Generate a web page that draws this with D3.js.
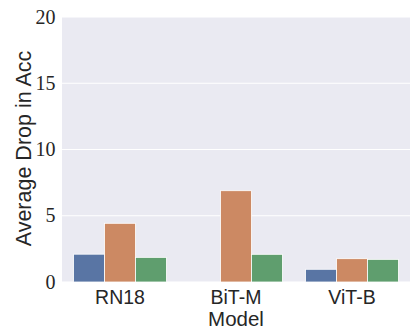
<!DOCTYPE html>
<html lang="en">
<head>
<meta charset="utf-8">
<script src="https://d3js.org/d3.v7.min.js"></script>
<style>
  html, body { margin: 0; padding: 0; background: #fff; }
  .ytick { font-family: "Liberation Serif", serif; font-size: 20px; fill: #262626; }
  .xtick { font-family: "Liberation Sans", sans-serif; font-size: 19.5px; fill: #262626; }
  .label { font-family: "Liberation Sans", sans-serif; font-size: 20.5px; fill: #262626; }
</style>
</head>
<body>
<script>
// data
var models = ["RN18", "BiT-M", "ViT-B"];
var series = ["s1", "s2", "s3"];
var s1 = [2.1, 0, 0.96];
var s2 = [4.43, 6.89, 1.76];
var s3 = [1.86, 2.09, 1.71];
var yTicks = [0, 5, 10, 15, 20];
var colors = ["#5975a4", "#cc8963", "#5f9e6e"];

var w = 415, h = 332;
var m = {left: 62, right: 5, top: 17, bottom: 50};

var svg = d3.select("body").append("svg")
    .attr("width", w).attr("height", h);

var x = d3.scaleBand().domain(models).range([m.left, w - m.right]).paddingInner(0.2).paddingOuter(0.1);
var xs = d3.scaleBand().domain(series).range([0, x.bandwidth()]);
var y = d3.scaleLinear().domain([0, 20]).range([h - m.bottom, m.top]);

svg.append("rect")
    .attr("x", m.left).attr("y", m.top)
    .attr("width", w - m.right - m.left).attr("height", h - m.bottom - m.top)
    .attr("fill", "#eaeaf2");

svg.selectAll("line.grid").data(yTicks).enter().append("line")
    .attr("x1", m.left).attr("x2", w - m.right)
    .attr("y1", d => y(d)).attr("y2", d => y(d))
    .attr("stroke", "#fff").attr("stroke-width", 1.2);

var vals = [s1, s2, s3];
models.forEach(function(mod, i) {
  series.forEach(function(s, j) {
    var v = vals[j][i];
    svg.append("rect")
      .attr("x", x(mod) + xs(s))
      .attr("y", y(v))
      .attr("width", xs.bandwidth())
      .attr("height", y(0) - y(v))
      .attr("fill", colors[j])
      .attr("stroke", "#fff").attr("stroke-width", v > 0 ? 0.8 : 0);
  });
});

svg.selectAll("text.ytick").data(yTicks).enter().append("text")
    .attr("class", "ytick")
    .attr("x", 55.5).attr("y", d => y(d))
    .attr("dy", "0.33em")
    .attr("text-anchor", "end").text(d => d);

svg.selectAll("text.xtick").data(models).enter().append("text")
    .attr("class", "xtick")
    .attr("x", d => x(d) + x.bandwidth() / 2).attr("y", 303.5)
    .attr("text-anchor", "middle").text(d => d);

svg.append("text").attr("class", "label")
    .attr("x", (m.left + w - m.right) / 2).attr("y", 326)
    .attr("text-anchor", "middle").text("Model");

svg.append("text").attr("class", "label")
    .style("font-size", "21.5px")
    .attr("transform", "translate(30.5," + ((m.top + h - m.bottom) / 2 - 1) + ") rotate(-90)")
    .attr("text-anchor", "middle").text("Average Drop in Acc");
</script>
</body>
</html>
